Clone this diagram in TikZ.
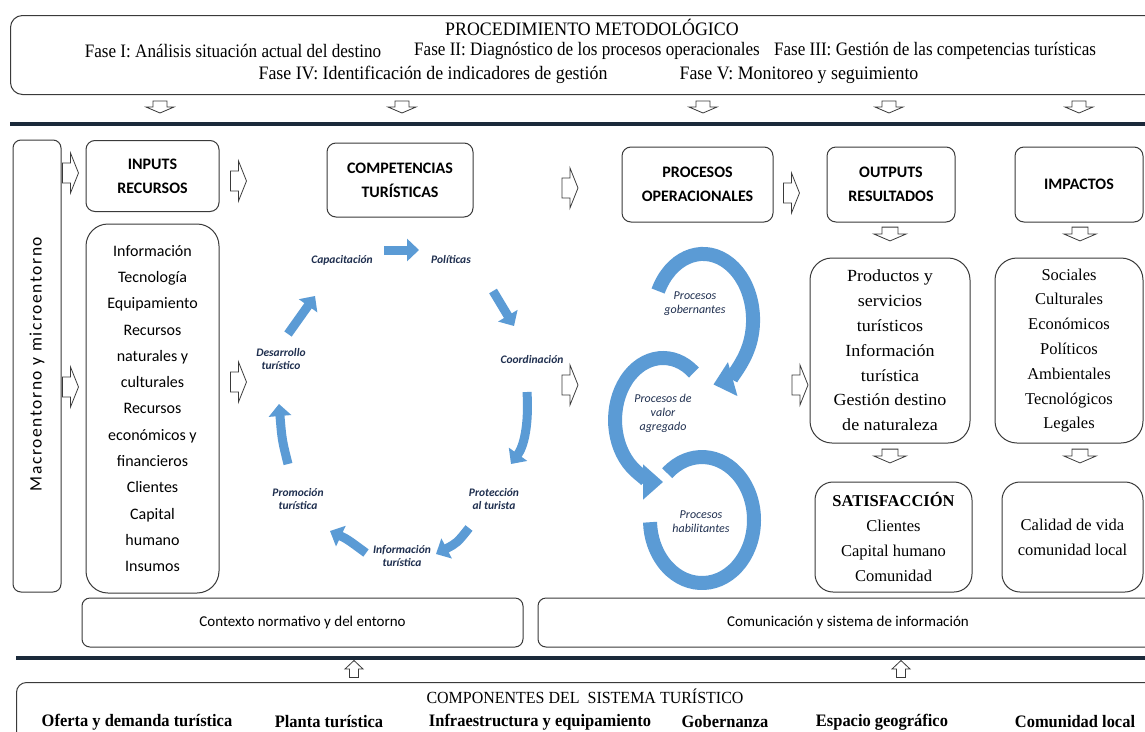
\documentclass[tikz,border=0pt]{standalone}
\usepackage{fontspec}
\setmainfont{Liberation Serif}
\newfontfamily\calfnt{Carlito}
\newfontfamily\calsp[LetterSpace=9]{Carlito}
\newfontfamily\cser[FakeStretch=0.94]{Liberation Serif}
\newfontfamily\cserB[FakeStretch=0.9]{Liberation Serif}
\newfontfamily\wser[FakeStretch=1.06]{Liberation Serif}
\usetikzlibrary{arrows.meta}
\definecolor{pblue}{HTML}{5B9BD5}
\definecolor{navy}{HTML}{1F2F4F}
\definecolor{boxC}{HTML}{3A3A3A}
\definecolor{thickC}{HTML}{1B2A3A}
% block arrows drawn at a named coordinate
\newcommand{\RArr}[1]{\draw[blk, shift={(#1)}] (-8,-10) -- (0,-10) -- (0,-20) -- (8,0) -- (0,20) -- (0,10) -- (-8,10) -- cycle;}
\newcommand{\DArr}[2]{\draw[blk, shift={(#1)}, scale=#2] (-7,-6) -- (7,-6) -- (7,0) -- (14,0) -- (0,6) -- (-14,0) -- (-7,0) -- cycle;}
\newcommand{\UArr}[1]{\draw[blk, shift={(#1)}] (-4.5,8.5) -- (4.5,8.5) -- (4.5,0) -- (9,0) -- (0,-8.5) -- (-9,0) -- (-4.5,0) -- cycle;}
\begin{document}
\begin{tikzpicture}[x=1pt,y=-1pt,
  box/.style={draw=boxC, line width=1pt, rounded corners=9pt, fill=white, inner sep=0pt},
  bigbox/.style={draw=boxC, line width=1pt, rounded corners=22pt, inner sep=0pt, align=center},
  hdr/.style={box, align=center, font=\calfnt\bfseries\fontsize{16}{24}\selectfont},
  lst/.style={bigbox, font=\fontsize{16.5}{24.8}\selectfont},
  blk/.style={draw=boxC, fill=white, line width=0.8pt, line join=miter},
  clab/.style={font=\calfnt\bfseries\itshape\fontsize{11.5}{13}\selectfont, text=navy, align=center, inner sep=1pt},
  plab/.style={font=\calfnt\itshape\fontsize{12}{14}\selectfont, text=navy, align=center, inner sep=1pt},
  carr/.style={draw=pblue, line width=9pt, -{Triangle[width=22pt,length=12pt]}},
  parr/.style={draw=pblue, line width=14pt},
  ptip/.style={-{Triangle[width=34pt,length=20pt]}},
  thick line/.style={draw=thickC, line width=3.5pt},
  phase/.style={font=\cser\fontsize{19}{22}\selectfont, inner sep=0pt},
  phaseB/.style={font=\cserB\fontsize{19}{22}\selectfont, inner sep=0pt},
  comp/.style={font=\cser\bfseries\fontsize{17.5}{20}\selectfont, inner sep=0pt}
]
\useasboundingbox (0,0) rectangle (1145,731);
\fill[white] (0,0) rectangle (1145,731);

% ---------- top: procedimiento metodologico ----------
\node[box, rounded corners=12pt, minimum width=1157pt, minimum height=79pt, anchor=north west] (proc) at (10,15) {};
\node[phase] (ptitle) at (592,27) {PROCEDIMIENTO METODOLÓGICO};
\node[phaseB] (f1) at (233,51) {Fase I: Análisis situación actual del destino};
\node[phaseB] (f2) at (587,51) {Fase II: Diagnóstico de los procesos operacionales};
\node[phaseB] (f3) at (935,51) {Fase III: Gestión de las competencias turísticas};
\node[phase] (f4) at (433,75) {Fase IV: Identificación de indicadores de gestión};
\node[phase] (f5) at (799,75) {Fase V: Monitoreo y seguimiento};

\coordinate (d1) at (160,107);
\coordinate (d2) at (402,107);
\coordinate (d3) at (703,107);
\coordinate (d4) at (889,107);
\coordinate (d5) at (1079,107);
\DArr{d1}{1} \DArr{d2}{1} \DArr{d3}{1} \DArr{d4}{1} \DArr{d5}{1}

\coordinate (tl1) at (10,124);
\coordinate (tr1) at (1160,124);
\draw[thick line] (tl1) -- (tr1);

% ---------- left macro ----------
\node[box, rounded corners=8pt, minimum width=48pt, minimum height=452pt] (macro) at (37,366) {};
\node[rotate=90, font=\calsp\fontsize{17.5}{19}\selectfont] (macrot) at (37,364) {Macroentorno y microentorno};
\coordinate (r1) at (70.5,173); \RArr{r1}
\coordinate (r2) at (70.5,387); \RArr{r2}

% ---------- headers ----------
\node[hdr, minimum width=133pt, minimum height=71pt] (inputs) at (152.5,176) {INPUTS\\RECURSOS};
\node[hdr, minimum width=146pt, minimum height=74pt] (compet) at (400,180) {COMPETENCIAS\\TURÍSTICAS};
\node[hdr, minimum width=151pt, minimum height=75pt] (procop) at (697.5,184.5) {PROCESOS\\OPERACIONALES};
\node[hdr, minimum width=128pt, minimum height=75pt] (outputs) at (891,184.5) {OUTPUTS\\RESULTADOS};
\node[hdr, minimum width=128pt, minimum height=75pt] (impactos) at (1079,184.5) {IMPACTOS};

\coordinate (r3) at (238.5,181); \RArr{r3}
\coordinate (r4) at (570,188); \RArr{r4}
\coordinate (r5) at (791.5,193); \RArr{r5}

% ---------- input list ----------
\node[bigbox, font=\calfnt\fontsize{16}{26.3}\selectfont, minimum width=133pt, minimum height=369pt] (inlist) at (152.5,408.5)
 {Información\\Tecnología\\Equipamiento\\Recursos\\naturales y\\culturales\\Recursos\\económicos y\\financieros\\Clientes\\Capital\\humano\\Insumos};
\coordinate (r6) at (238.5,382); \RArr{r6}
\coordinate (r7) at (570,385); \RArr{r7}
\coordinate (r8) at (800,385); \RArr{r8}

% ---------- competencias cycle ----------
\node[clab] (cap) at (342,260) {Capacitación};
\node[clab] (pol) at (451,260) {Políticas};
\node[clab] (coo) at (532,360) {Coordinación};
\node[clab] (pro) at (494,499) {Protección\\al turista};
\node[clab] (inf) at (402,556) {Información\\turística};
\node[clab] (prm) at (298,499) {Promoción\\turística};
\node[clab] (des) at (281,359) {Desarrollo\\turístico};

\coordinate (a1s) at (384,250); \coordinate (a1e) at (419,250);
\coordinate (a2s) at (493,291); \coordinate (a2e) at (514,326);
\coordinate (a3s) at (527,392); \coordinate (a3e) at (511,464);
\coordinate (a4s) at (469,528); \coordinate (a4e) at (436,554);
\coordinate (a5s) at (366,553); \coordinate (a5e) at (330,531);
\coordinate (a6s) at (288,464); \coordinate (a6e) at (279,404);
\coordinate (a7s) at (288,334); \coordinate (a7e) at (315,296);
\draw[carr] (a1s) -- (a1e);
\draw[carr] (a2s) -- (a2e);
\draw[carr] (a3s) .. controls (529,425) and (524,446) .. (a3e);
\draw[carr] (a4s) .. controls (457,543) .. (a4e);
\draw[carr] (a5s) .. controls (347,539) .. (a5e);
\draw[carr] (a6s) .. controls (282,440) .. (a6e);
\draw[carr] (a7s) -- (a7e);

% ---------- procesos circles ----------
\coordinate (g0) at (658.1,291);
\draw[parr, ptip] (g0) arc[start angle=154, end angle=-78, x radius=50pt, y radius=66pt];
\coordinate (v0) at (693.9,372.5);
\draw[parr, ptip] (v0) arc[start angle=50, end angle=270, x radius=48pt, y radius=62pt];
\coordinate (h0) at (667.2,473.2);
\draw[parr] (h0) arc[start angle=132, end angle=-178, x radius=52pt, y radius=63pt];
\node[plab] (gob) at (695,304) {Procesos\\gobernantes};
\node[plab] (val) at (663,413) {Procesos de\\valor\\agregado};
\node[plab] (hab) at (701,522) {Procesos\\habilitantes};

% ---------- outputs / impactos ----------
\coordinate (d6) at (890,234); \DArr{d6}{1.15}
\coordinate (d7) at (1080,234); \DArr{d7}{1.15}
\node[bigbox, font=\wser\fontsize{17}{24.8}\selectfont, minimum width=160pt, minimum height=185pt] (outlist) at (890,350.5)
 {Productos y\\servicios\\turísticos\\Información\\turística\\Gestión destino\\de naturaleza};
\node[lst, minimum width=148pt, minimum height=185pt] (implist) at (1069,350.5)
 {Sociales\\Culturales\\Económicos\\Políticos\\Ambientales\\Tecnológicos\\Legales};
\coordinate (d8) at (890,456); \DArr{d8}{1.15}
\coordinate (d9) at (1080,456); \DArr{d9}{1.15}
\node[lst, rounded corners=18pt, minimum width=157pt, minimum height=110pt] (satis) at (893.5,537)
 {\textbf{SATISFACCIÓN}\\Clientes\\Capital humano\\Comunidad};
\node[lst, rounded corners=18pt, minimum width=141pt, minimum height=110pt] (calidad) at (1072.5,537)
 {Calidad de vida\\comunidad local};

% ---------- context boxes ----------
\node[box, rounded corners=8pt, minimum width=441pt, minimum height=49pt, font=\calfnt\fontsize{15}{18}\selectfont] (ctx) at (302.5,622.5) {Contexto normativo y del entorno};
\node[box, rounded corners=8pt, minimum width=632pt, minimum height=49pt] (comu) at (854,622.5) {};
\node[font=\calfnt\fontsize{15}{18}\selectfont] (comut) at (848,622.5) {Comunicación y sistema de información};

\coordinate (tl2) at (16,658);
\coordinate (tr2) at (1160,658);
\draw[thick line] (tl2) -- (tr2);
\coordinate (u1) at (354,669); \UArr{u1}
\coordinate (u2) at (901,669); \UArr{u2}

% ---------- componentes ----------
\node[box, rounded corners=10pt, minimum width=1154pt, minimum height=80pt, anchor=north west] (compbox) at (16,682) {};
\node[font=\cser\fontsize{17}{20}\selectfont, inner sep=0pt] (ctitle) at (585,696) {COMPONENTES DEL\ \ SISTEMA TURÍSTICO};
\node[comp] (c1) at (137,722) {Oferta y demanda turística};
\node[comp] (c2) at (329,722) {Planta turística};
\node[comp] (c3) at (540,722) {Infraestructura y equipamiento};
\node[comp] (c4) at (725,722) {Gobernanza};
\node[comp] (c5) at (882,722) {Espacio geográfico};
\node[comp] (c6) at (1075,722) {Comunidad local};
\end{tikzpicture}
\end{document}
